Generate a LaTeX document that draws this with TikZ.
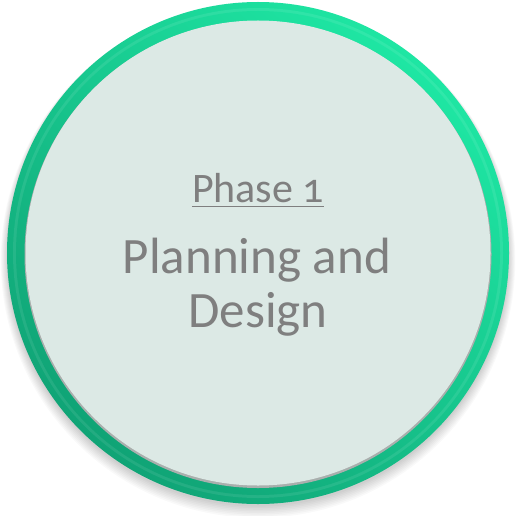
\documentclass[tikz,border=0pt]{standalone}
\usepackage{fontspec}
\setmainfont{Carlito}[Numbers=OldStyle]
\definecolor{ringlight}{HTML}{1EE6A3}
\definecolor{ringdark}{HTML}{10A476}
\definecolor{innerfill}{HTML}{DCE9E5}
\definecolor{txtgray}{HTML}{7F7F7F}
\tikzset{
  phasetext/.style={text=txtgray, inner sep=0pt, anchor=base, font=\fontsize{42}{44}\selectfont},
  titletext/.style={text=txtgray, inner sep=0pt, anchor=base, font=\fontsize{51}{55}\selectfont}
}
\begin{document}
\begin{tikzpicture}[x=1pt,y=-1pt]
\useasboundingbox (0,0) rectangle (516,516);
\fill[white] (0,0) rectangle (516,516);
% soft shadow
\foreach \i in {1,...,8}{
  \fill[black, opacity=0.025] (258,{255+\i*0.7}) circle ({250+\i*0.9});
}
% ring
\shade[shading=axis, top color=ringlight, bottom color=ringdark, shading angle=-40] (258,253) circle (251);
\shade[shading=axis, top color=ringlight!92!white, bottom color=ringdark!92!white, shading angle=-40] (258,253) circle (245);
\shade[shading=axis, top color=ringlight, bottom color=ringdark, shading angle=-40] (258,253) circle (242);
% inner disc
\fill[gray!55!innerfill] (258,254.5) circle (233.5);
\fill[innerfill] (258,253) circle (232.5);
% text
\node[phasetext] (phase) at (258,202) {Phase 1};
\draw[txtgray, line width=1.8pt] ([yshift=-4.5pt]phase.base west) -- ([yshift=-4.5pt]phase.base east);
\node[titletext] (plan) at (257,273) {Planning and};
\node[titletext] (design) at (258,327) {Design};
\end{tikzpicture}
\end{document}
